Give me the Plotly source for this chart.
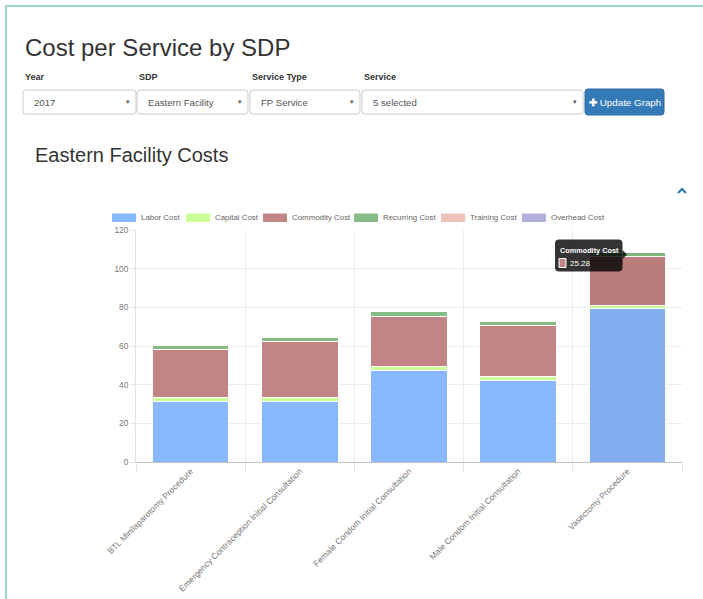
import plotly.graph_objects as go

# ---------------- data ----------------
services = [
    "BTL Minilaparotomy Procedure",
    "Emergency Contraception Initial Consultation",
    "Female Condom Initial Consultation",
    "Male Condom Initial Consultation",
    "Vasectomy Procedure",
]
series_names = ["Labor Cost", "Capital Cost", "Commodity Cost",
                "Recurring Cost", "Training Cost", "Overhead Cost"]
labor = [31.3, 31.3, 47.4, 42.2, 79.3]
capital = [2.3, 2.3, 1.8, 1.8, 1.6]
commodity = [24.6, 28.5, 26.3, 26.7, 25.28]
recurring = [2.3, 2.4, 2.3, 2.2, 2.2]
training = [0, 0, 0, 0, 0]
overhead = [0, 0, 0, 0, 0]
y_ticks = [0, 20, 40, 60, 80, 100, 120]

filters = [("Year", "2017"), ("SDP", "Eastern Facility"),
           ("Service Type", "FP Service"), ("Service", "5 selected")]
tooltip_series = "Commodity Cost"
tooltip_value = commodity[4]

# ---------------- styles ----------------
FONT = "Liberation Sans, Arial, sans-serif"
colors = ["#89b8fd", "#ccff99", "#c28484", "#86bb86", "#efc3bb", "#b1b1dc"]
hover_colors = ["#82aef0", "#c4f590", "#ba7c7c", "#7fb37f", "#e8bbb3", "#a9a9d4"]
hovered_index = 4

W_FIG, H_FIG = 703, 599
L, R, T, B = 136, 21, 230, 137
PW = W_FIG - L - R
PH = H_FIG - T - B


def px(x):
    return (x - L) / PW


def py(y):
    return (H_FIG - B - y) / PH


def rrect(x0, y0, x1, y1, r):
    rx, ry = r / PW, r / PH
    a0, a1 = px(x0), px(x1)
    b0, b1 = py(y0), py(y1)  # b0 top (higher), b1 bottom
    return (f"M{a0+rx},{b0} L{a1-rx},{b0} Q{a1},{b0} {a1},{b0-ry} "
            f"L{a1},{b1+ry} Q{a1},{b1} {a1-rx},{b1} L{a0+rx},{b1} "
            f"Q{a0},{b1} {a0},{b1+ry} L{a0},{b0-ry} Q{a0},{b0} {a0+rx},{b0} Z")


def label(text, x, y, size, color, anchor="left", family=FONT):
    return dict(text=text, x=px(x), y=py(y), xref="paper", yref="paper",
                xanchor=anchor, yanchor="middle", showarrow=False,
                font=dict(family=family, size=size, color=color))


fig = go.Figure()
all_vals = [labor, capital, commodity, recurring, training, overhead]
for i, (name, vals) in enumerate(zip(series_names, all_vals)):
    cols = [hover_colors[i] if j == hovered_index else colors[i] for j in range(len(vals))]
    fig.add_trace(go.Bar(
        x=services, y=vals, name=name, showlegend=False,
        marker=dict(color=cols, line=dict(color="rgba(255,255,255,0.95)", width=1)),
    ))

shapes = []
annotations = []

# page frame (teal)
shapes.append(dict(type="path", xref="paper", yref="paper",
                   path=f"M{px(6)},{py(599)} L{px(6)},{py(6)} L{px(703)},{py(6)}",
                   line=dict(color="#7cc7bc", width=1.5), layer="above"))

# title
annotations.append(label("Cost per Service by SDP", 23, 47, 24, "#333"))

# filter controls
boxes = [(23, 136), (137, 248), (250, 360), (362, 583)]
for (lab, val), (bx0, bx1) in zip(filters, boxes):
    annotations.append(label(f"<b>{lab}</b>", bx0, 77, 9, "#333"))
    shapes.append(dict(type="path", xref="paper", yref="paper",
                       path=rrect(bx0, 90, bx1, 114, 3),
                       line=dict(color="#cccccc", width=1), fillcolor="white"))
    annotations.append(label(val, bx0 + 9, 102, 9.6, "#555"))
    annotations.append(label("▾", bx1 - 8, 102, 7, "#555", anchor="center",
                             family="DejaVu Sans"))

# update button
shapes.append(dict(type="path", xref="paper", yref="paper",
                   path=rrect(585, 89, 664, 115, 3),
                   line=dict(color="#2e6da4", width=1), fillcolor="#337ab7"))
annotations.append(label("<b>✚</b> Update Graph", 624.5, 102, 9.8, "white", anchor="center"))

# subtitle
annotations.append(label("Eastern Facility Costs", 33, 155, 20, "#333"))

# collapse chevron
shapes.append(dict(type="path", xref="paper", yref="paper",
                   path=f"M{px(678)},{py(193)} L{px(682)},{py(189)} L{px(686)},{py(193)}",
                   line=dict(color="#337ab7", width=2.2)))

# manual legend
legend_box_x = [112, 186, 263, 354, 441, 522]
for name, col, lx in zip(series_names, colors, legend_box_x):
    shapes.append(dict(type="rect", xref="paper", yref="paper",
                       x0=px(lx), x1=px(lx + 24), y0=py(222), y1=py(213.5),
                       fillcolor=col, line=dict(width=0)))
    annotations.append(label(name, lx + 27, 217.5, 7.9, "#666"))

# tooltip
shapes.append(dict(type="path", xref="paper", yref="paper",
                   path=rrect(555, 239.5, 622.5, 271.5, 4),
                   line=dict(width=0), fillcolor="rgba(0,0,0,0.8)", layer="above"))
shapes.append(dict(type="path", xref="paper", yref="paper",
                   path=f"M{px(622.5)},{py(250)} L{px(627)},{py(254.5)} L{px(622.5)},{py(259)} Z",
                   line=dict(width=0), fillcolor="rgba(0,0,0,0.8)", layer="above"))
shapes.append(dict(type="rect", xref="paper", yref="paper",
                   x0=px(559), x1=px(566), y0=py(267.5), y1=py(258.5),
                   fillcolor=colors[2], line=dict(color="white", width=1), layer="above"))
annotations.append(label(f"<b>{tooltip_series}</b>", 557.5, 250, 7.3, "white"))
annotations.append(label(f"{tooltip_value:.2f}", 567.5, 263.3, 8, "white"))

fig.update_layout(
    width=W_FIG, height=H_FIG,
    margin=dict(l=L, r=R, t=T, b=B, pad=0, autoexpand=False),
    paper_bgcolor="white", plot_bgcolor="white",
    barmode="stack", bargap=0.3,
    font=dict(family=FONT),
    shapes=shapes, annotations=annotations,
    hovermode=False,
    xaxis=dict(type="category", tickson="boundaries", showgrid=True,
               gridcolor="#ebebeb", gridwidth=1, automargin=False,
               ticks="outside", ticklen=8, tickcolor="#e3e3e3",
               tickangle=-45, showline=True, linecolor="#c4c4c4", linewidth=1,
               tickfont=dict(family=FONT, size=8.5, color="#777"),
               zeroline=False),
    yaxis=dict(range=[0, 120], tickvals=y_ticks, showgrid=True, automargin=False,
               gridcolor="#ebebeb", gridwidth=1, ticks="outside", ticklen=5,
               tickcolor="#e3e3e3", showline=True, linecolor="#e0e0e0",
               tickfont=dict(family=FONT, size=8.3, color="#777"),
               zeroline=False),
)

fig.write_html("out.html", config={"displayModeBar": False},
               post_script="document.body.style.margin='0';document.body.style.overflow='hidden';")
